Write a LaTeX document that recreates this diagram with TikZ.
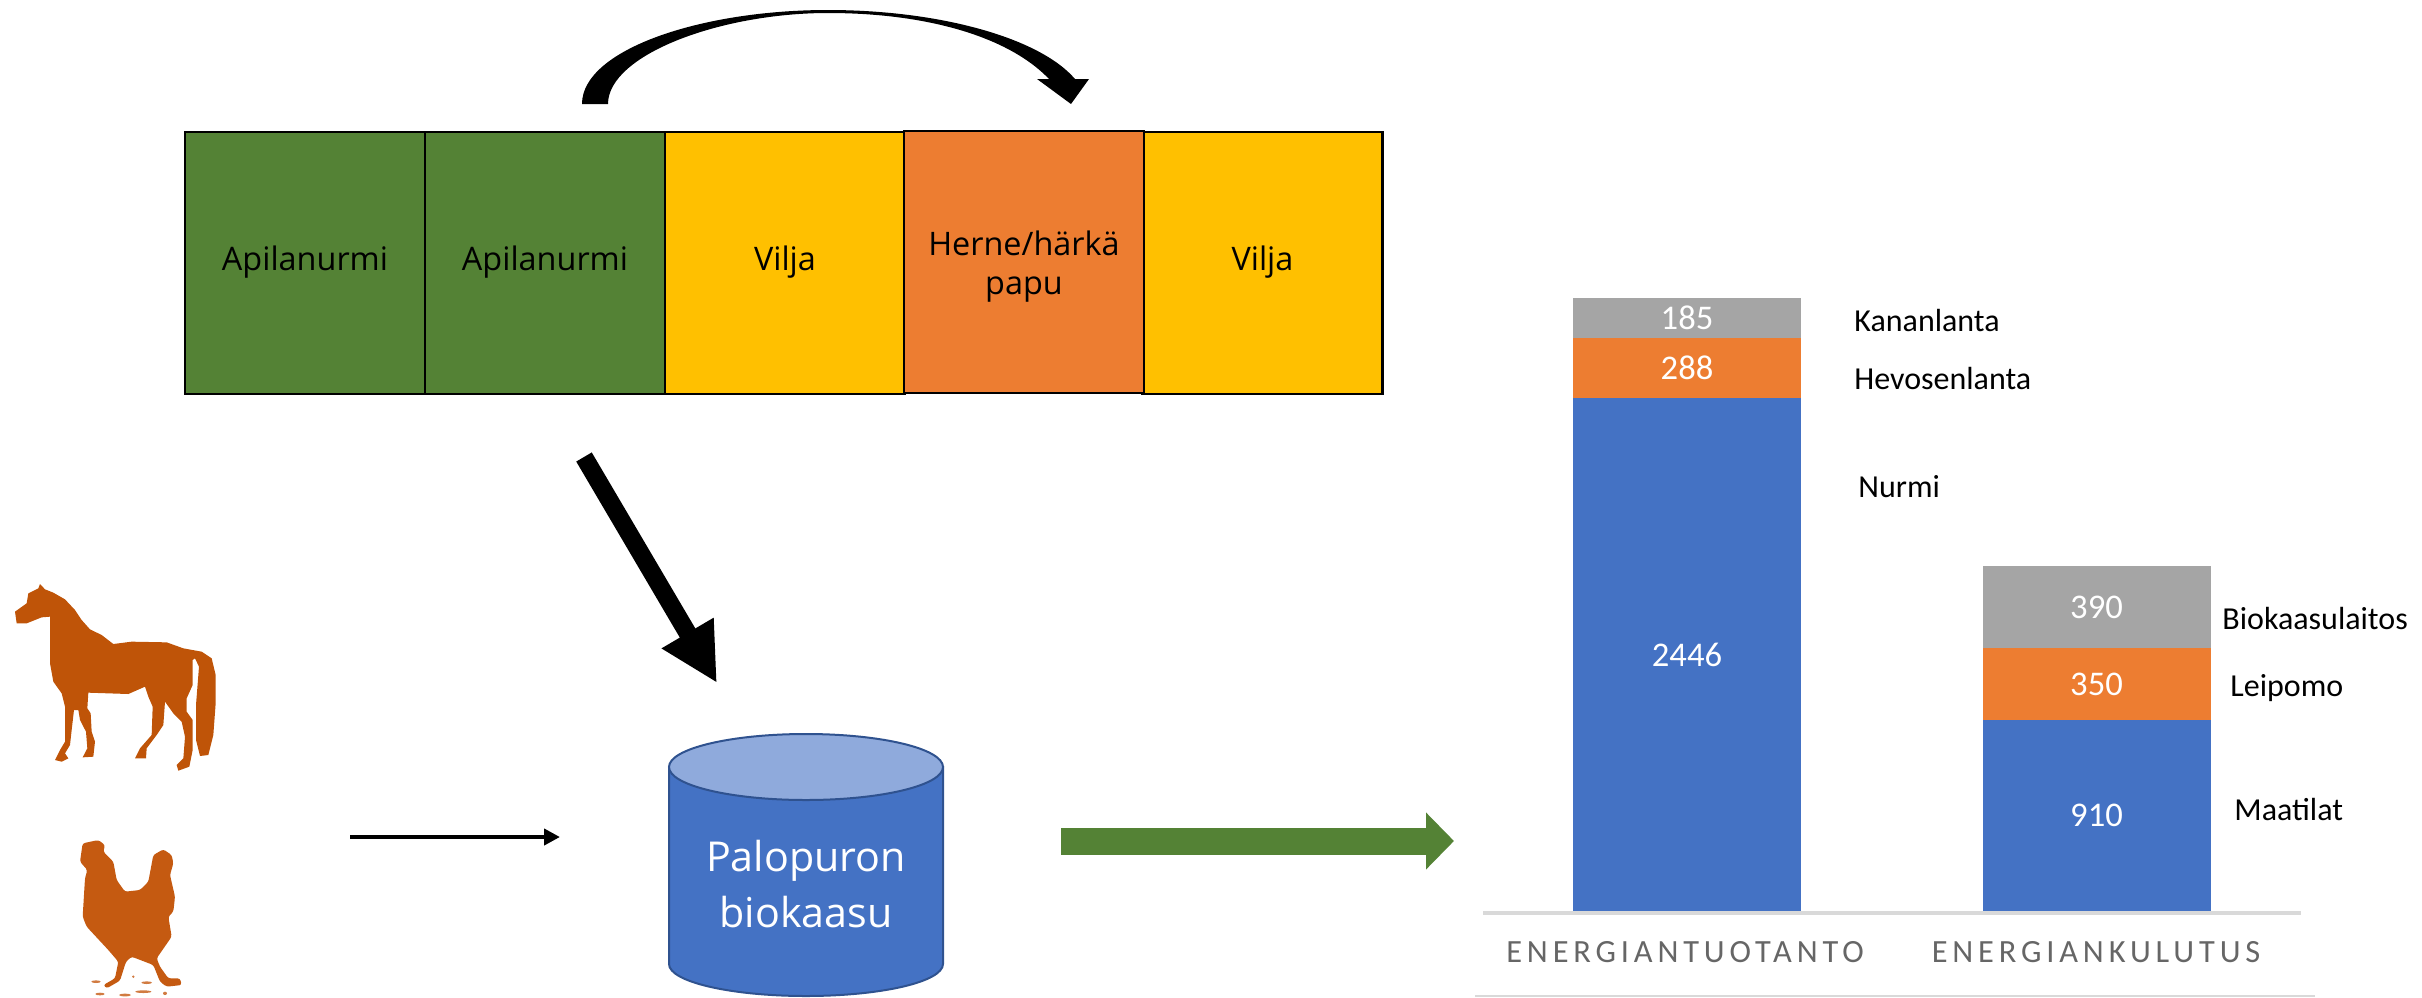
\documentclass[tikz,border=0pt]{standalone}
\usepackage{fontspec}
\setmainfont{Open Sans}
\newfontfamily\chartfont{Carlito}
\newfontfamily\axisfont[LetterSpace=15]{Carlito}
\usetikzlibrary{arrows.meta}
\definecolor{cropgreen}{HTML}{548235}
\definecolor{cropyellow}{HTML}{FFC000}
\definecolor{croporange}{HTML}{ED7D31}
\definecolor{chartblue}{HTML}{4472C4}
\definecolor{chartgrey}{HTML}{A5A5A5}
\definecolor{cyltop}{HTML}{8FAADC}
\definecolor{cylline}{HTML}{2F528F}
\definecolor{animalhorse}{HTML}{BF5408}
\definecolor{animalhen}{HTML}{C55A11}
\definecolor{axisline}{HTML}{D9D9D9}
\definecolor{axistext}{HTML}{666666}
\tikzset{
  cropbox/.style={draw=black,line width=1.2pt,inner sep=0pt,outer sep=0pt,minimum width=120pt,minimum height=131pt,align=center,font=\fontsize{16.2}{19.5}\selectfont,text=black},
  seg/.style={inner sep=0pt,outer sep=0pt,minimum width=114pt,text=white,font=\chartfont\fontsize{17.3}{19}\selectfont},
  sidelabel/.style={anchor=west,inner sep=0pt,text=black,font=\chartfont\fontsize{16}{18}\selectfont},
  axislabel/.style={inner sep=0pt,text=axistext,font=\axisfont\fontsize{16.2}{18}\selectfont},
}
\begin{document}
\begin{tikzpicture}[x=0.5pt,y=-0.5pt]
\useasboundingbox (0,0) rectangle (2422,997);
% crop rotation
\node[cropbox,fill=cropgreen] (c1) at (305,263) {\strut Apilanurmi};
\node[cropbox,fill=cropgreen] (c2) at (545,263) {\strut Apilanurmi};
\node[cropbox,fill=cropyellow] (c3) at (785,263) {\strut Vilja};
\node[cropbox,fill=cropyellow] (c5) at (1262.5,263) {\strut Vilja};
\node[cropbox,fill=croporange] (c4) at (1024,262) {\rule{0pt}{18.6pt}Herne/härkä\\\strut papu};
% curved arrow
\fill[black] (582,104) .. controls (582,50) and (700,10) .. (828,10)
  .. controls (940,10) and (1040,38) .. (1075,79) -- (1089,79) -- (1071,104) -- (1037,79) -- (1049,79)
  .. controls (1010,38) and (930,13) .. (828,13)
  .. controls (720,13) and (608,55) .. (608,104) -- cycle;
% big arrow to cylinder
\coordinate (bigstart) at (584,457);
\coordinate (bigend) at (717,683);
\draw[black,line width=9pt,-{Triangle[length=29pt,width=28pt]}] (bigstart) -- (bigend);
% cylinder
\path[fill=chartblue,draw=cylline,line width=1pt] (669,767) -- (669,964) arc[start angle=180,end angle=0,x radius=137,y radius=32] -- (943,767) -- cycle;
\path[fill=cyltop,draw=cylline,line width=1pt] (806,767) ellipse[x radius=137,y radius=33];
\node[inner sep=0pt,text=white,align=center,font=\fontsize{20.6}{28}\selectfont] (cyl) at (806,884) {Palopuron\\biokaasu};
% horse
\fill[animalhorse,shift={(0,560)},x=0.16667pt,y=-0.16667pt]
 (120,72) -- (135,88) -- (160,98) -- (195,118) -- (225,150) -- (245,180) -- (270,208) -- (305,225) -- (340,252) -- (395,245) -- (500,247) -- (550,265) -- (605,275) -- (635,295) -- (647,345) -- (647,430) -- (640,525) -- (625,585) -- (600,588) -- (588,540) -- (588,435) -- (597,320) -- (585,295) -- (578,300) -- (578,375) -- (560,415) -- (560,455) -- (578,480) -- (578,570) -- (568,620) -- (535,632) -- (530,615) -- (550,595) -- (555,530) -- (545,485) -- (520,460) -- (495,425) -- (490,495) -- (470,525) -- (440,565) -- (438,595) -- (405,595) -- (420,565) -- (455,525) -- (458,440) -- (445,410) -- (435,380) -- (385,402) -- (325,400) -- (265,398) -- (262,445) -- (272,460) -- (275,515) -- (285,545) -- (280,590) -- (248,592) -- (262,565) -- (258,515) -- (240,480) -- (235,450) -- (222,450) -- (215,510) -- (210,555) -- (195,580) -- (205,595) -- (185,605) -- (165,600) -- (180,570) -- (195,545) -- (195,440) -- (185,400) -- (160,365) -- (150,310) -- (150,170) -- (125,172) -- (80,190) -- (50,190) -- (45,155) -- (80,130) -- (85,100) -- (115,85) -- cycle;
% hen
\fill[animalhen,rounded corners=1.2pt,shift={(0,560)},x=0.16667pt,y=-0.16667pt]
 (248,850) -- (295,840) -- (315,855) -- (310,875) -- (340,905) -- (350,960) -- (375,995) -- (420,990) -- (445,965) -- (460,885) -- (490,868) -- (515,885) -- (520,910) -- (510,945) -- (525,1010) -- (520,1055) -- (505,1070) -- (515,1130) -- (470,1195) -- (480,1220) -- (505,1255) -- (540,1255) -- (545,1275) -- (500,1280) -- (480,1265) -- (460,1215) -- (395,1190) -- (378,1205) -- (360,1262) -- (320,1285) -- (310,1275) -- (345,1255) -- (355,1205) -- (325,1170) -- (260,1100) -- (248,1070) -- (255,955) -- (262,930) -- (240,905) -- cycle;
\fill[animalhen!80!white,shift={(0,560)},x=0.16667pt,y=-0.16667pt]
 (288,1265) ellipse[x radius=14,y radius=4] (440,1268) ellipse[x radius=16,y radius=4] (400,1250) ellipse[x radius=4,y radius=4] (300,1302) ellipse[x radius=14,y radius=4] (375,1305) ellipse[x radius=18,y radius=4] (430,1295) ellipse[x radius=24,y radius=4] (495,1300) ellipse[x radius=6,y radius=5];
% thin arrow
\coordinate (thinstart) at (350,837);
\coordinate (thinend) at (560,837);
\draw[black,line width=2pt,-{Triangle[length=8pt,width=8pt]}] (thinstart) -- (thinend);
% green arrow
\coordinate (greenstart) at (1061,841);
\coordinate (greenend) at (1454,841);
\draw[cropgreen,line width=13.5pt,-{Triangle[length=14pt,width=27.7pt]}] (greenstart) -- (greenend);
% chart
\node[seg,fill=chartgrey,minimum height=20pt] (a3) at (1687,318) {185};
\node[seg,fill=croporange,minimum height=30pt] (a2) at (1687,368) {288};
\node[seg,fill=chartblue,minimum height=256.5pt] (a1) at (1687,654.5) {2446};
\node[seg,fill=chartgrey,minimum height=41pt] (b3) at (2096.5,607) {390};
\node[seg,fill=croporange,minimum height=36pt] (b2) at (2096.5,684) {350};
\node[seg,fill=chartblue,minimum height=95.5pt] (b1) at (2096.5,815.5) {910};
\coordinate (ax1) at (1483,913);
\coordinate (ax2) at (2301,913);
\coordinate (ax3) at (1475,996);
\coordinate (ax4) at (2315,996);
\draw[axisline,line width=2pt] (ax1) -- (ax2);
\draw[axisline,line width=1pt] (ax3) -- (ax4);
\node[axislabel] (l1) at (1685,952) {ENERGIANTUOTANTO};
\node[axislabel] (l2) at (2096,952) {ENERGIANKULUTUS};
\node[sidelabel] (s1) at (1854,321) {Kananlanta};
\node[sidelabel] (s2) at (1854,379) {Hevosenlanta};
\node[sidelabel] (s3) at (1858,487) {Nurmi};
\node[sidelabel] (s4) at (2222,618) {Biokaasulaitos};
\node[sidelabel] (s5) at (2230,688) {Leipomo};
\node[sidelabel] (s6) at (2234,809) {Maatilat};
\end{tikzpicture}
\end{document}
